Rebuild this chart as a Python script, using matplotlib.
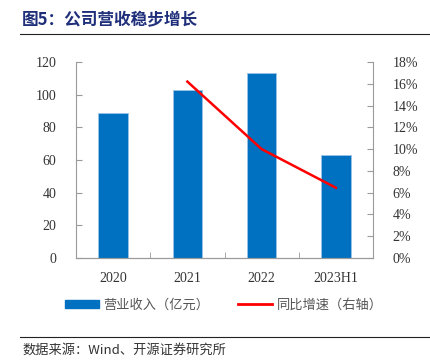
import matplotlib
matplotlib.use('Agg')
import matplotlib.pyplot as plt
from matplotlib.ticker import FuncFormatter, MultipleLocator
from matplotlib.patches import Patch
from matplotlib.lines import Line2D

plt.rcParams['font.family'] = ['Noto Sans CJK SC', 'DejaVu Sans']

years = ['2020', '2021', '2022', '2023H1']
revenue = [88.8, 102.9, 113.1, 62.9]
growth_years = ['2021', '2022', '2023H1']
growth = [16.2, 10.0, 6.45]

num_font = 'Liberation Serif'
grey = '#9a9a9a'
txt = '#333333'

fig = plt.figure(figsize=(4.3, 3.6), dpi=100)
ax = fig.add_axes([76/430, 102/360, 297/430, 196/360])
ax2 = ax.twinx()

x = list(range(len(years)))
ax.bar(x, revenue, width=0.4, color='#0070C0', edgecolor='#9cc3e6', linewidth=0.6, zorder=2)
gx = [years.index(y) for y in growth_years]
ax2.plot(gx, growth, color='#FF0000', lw=1.8, zorder=3)

ax.set_xlim(-0.5, 3.5)
ax.set_ylim(0, 120)
ax2.set_ylim(0, 18)
ax.yaxis.set_major_locator(MultipleLocator(20))
ax2.yaxis.set_major_locator(MultipleLocator(2))
ax2.yaxis.set_major_formatter(FuncFormatter(lambda v, p: f'{v:.0f}%'))

ax.set_xticks(x)
ax.set_xticklabels(years)
ax.set_xticks([0.5, 1.5, 2.5], minor=True)
ax.tick_params(axis='x', which='major', length=0, pad=10)
ax.tick_params(axis='x', which='minor', direction='in', length=4, color=grey)
ax.tick_params(axis='y', direction='in', length=4, color=grey, pad=14)
ax2.tick_params(axis='y', direction='in', length=4, color=grey, pad=14)

for a in (ax, ax2):
    a.spines['top'].set_visible(False)
    for s in ('left', 'right', 'bottom'):
        a.spines[s].set_color(grey)
    for lab in a.get_xticklabels() + a.get_yticklabels():
        lab.set_fontfamily(num_font)
        lab.set_fontsize(10)
        lab.set_color(txt)
ax2.spines['left'].set_visible(False)
ax.spines['right'].set_visible(False)

handles = [Patch(color='#0070C0'), Line2D([], [], color='#FF0000', lw=2)]
fig.legend(handles, ['营业收入（亿元）', '同比增速（右轴）'], loc='center',
           bbox_to_anchor=(0.52, 1 - 305/360), ncol=2, frameon=False,
           fontsize=9.5, handlelength=2.6, handleheight=0.5, handletextpad=0.3,
           columnspacing=2.2, labelcolor='#555555')

fig.text(22/430, 1 - 20/360, '图5：公司营收稳步增长', fontsize=12, fontweight='bold',
         color='#1F2F7A', va='center', ha='left')
fig.add_artist(Line2D([20/430, 1], [1 - 34/360] * 2, color='#222222', lw=0.8))
fig.add_artist(Line2D([20/430, 1], [1 - 337/360] * 2, color='#222222', lw=0.8))
fig.text(22/430, 1 - 350/360, '数据来源：Wind、开源证券研究所', fontsize=9.5,
         color='#333333', va='center', ha='left')

fig.savefig('out.png', dpi=100)
